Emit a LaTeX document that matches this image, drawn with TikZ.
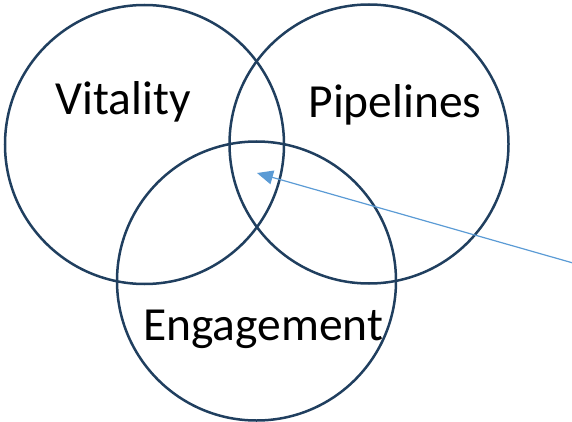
\documentclass[tikz,border=0pt]{standalone}
\usepackage{fontspec}
\setmainfont{Carlito}
\usetikzlibrary{arrows.meta}
\definecolor{ringblue}{HTML}{203F5F}
\definecolor{pointblue}{HTML}{5B9BD5}
\begin{document}
\begin{tikzpicture}[x=1pt,y=-1pt]
    \tikzstyle{ring}=[draw=ringblue,line width=2.5pt,circle,minimum size=279pt,inner sep=0pt]
    \tikzstyle{label}=[font=\fontsize{47.5}{57}\selectfont,anchor=base,inner sep=0pt]
    \tikzstyle{pointer}=[draw=pointblue,line width=1.2pt,-{Triangle[length=16pt,width=14pt]}]

    \useasboundingbox (0,0) rectangle (572,422);

    \node[ring] at (144.5,144.5) (vit) {};
    \node[ring] at (369,144) (pip) {};
    \node[ring] at (256.5,281) (eng) {};

    \node[label] at (123,115) (vitlabel) {Vitality};
    \node[label] at (395,118) (piplabel) {Pipelines};
    \node[label] at (263,340) (englabel) {Engagement};

    \coordinate (hub) at (257,173);
    \coordinate (tail) at (573,263);
    \draw[pointer] (tail) -- (hub);
\end{tikzpicture}
\end{document}
